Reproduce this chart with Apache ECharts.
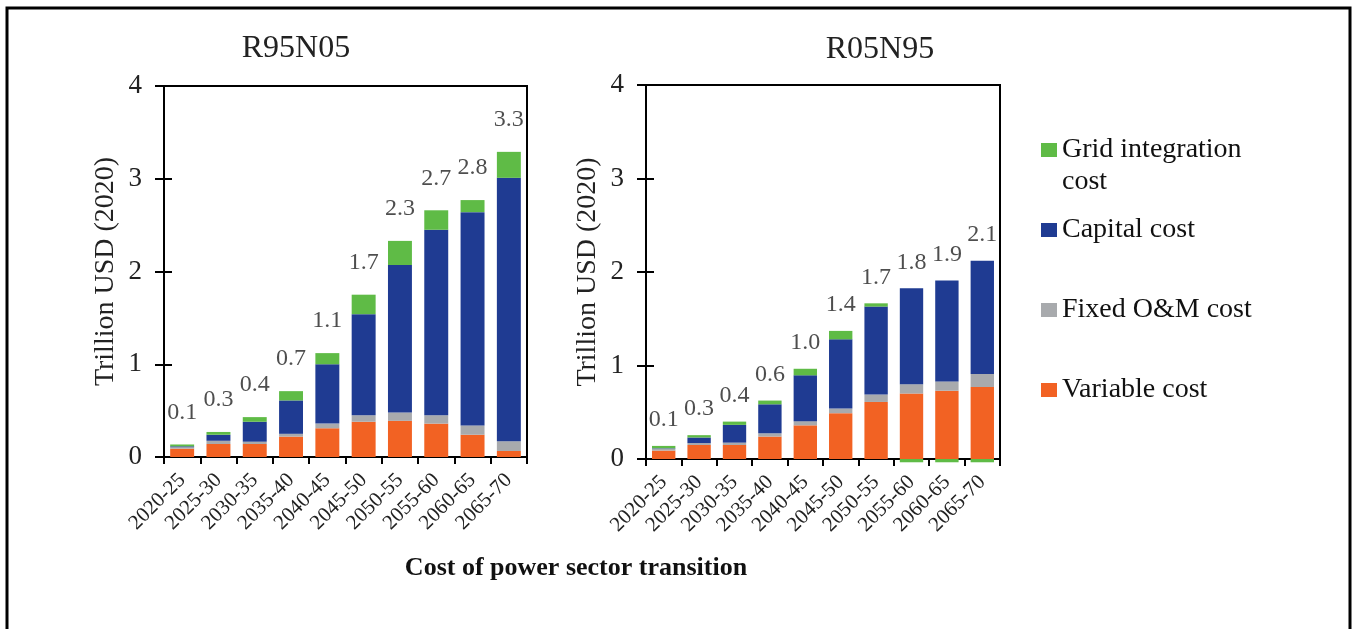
<!DOCTYPE html>
<html>
<head>
<meta charset="utf-8">
<script src="https://cdn.jsdelivr.net/npm/echarts@6/dist/echarts.min.js"></script>
<style>
  html, body { margin: 0; padding: 0; background: #fff; }
  #chart { width: 1353px; height: 629px; }
</style>
</head>
<body>
<div id="chart"></div>
<script>
const periods = ['2020-25', '2025-30', '2030-35', '2035-40', '2040-45', '2045-50', '2050-55', '2055-60', '2060-65', '2065-70']

// R95N05 (trillion USD 2020)
const variableA = [0.09, 0.14, 0.14, 0.22, 0.31, 0.38, 0.39, 0.36, 0.24, 0.065]
const fixedA = [0.015, 0.035, 0.025, 0.03, 0.05, 0.07, 0.09, 0.09, 0.10, 0.105]
const capitalA = [0.01, 0.065, 0.215, 0.36, 0.64, 1.09, 1.59, 2.0, 2.3, 2.84]
const gridA = [0.02, 0.03, 0.05, 0.10, 0.12, 0.21, 0.26, 0.21, 0.13, 0.28]
const totalLabelsA = ['0.1', '0.3', '0.4', '0.7', '1.1', '1.7', '2.3', '2.7', '2.8', '3.3']

// R05N95
const variableB = [0.09, 0.15, 0.15, 0.24, 0.36, 0.49, 0.61, 0.70, 0.73, 0.77]
const fixedB = [0.02, 0.02, 0.025, 0.035, 0.045, 0.05, 0.08, 0.10, 0.10, 0.14]
const capitalB = [0.005, 0.06, 0.19, 0.31, 0.49, 0.74, 0.94, 1.025, 1.08, 1.21]
const gridB = [0.025, 0.025, 0.035, 0.04, 0.07, 0.09, 0.035, -0.035, -0.035, -0.035]
const totalLabelsB = ['0.1', '0.3', '0.4', '0.6', '1.0', '1.4', '1.7', '1.8', '1.9', '2.1']

const yTicks = [0, 1, 2, 3, 4]

const colors = {
  grid: '#5fbb46',
  capital: '#1f3b92',
  fixed: '#a8aaad',
  variable: '#f26223',
}
const serif = '"Liberation Serif", "Times New Roman", serif'

function positiveTop(parts) {
  return periods.map((_, i) => parts.reduce((s, arr) => s + Math.max(arr[i], 0), 0))
}

function xAxisFor(gridIndex) {
  return {
    type: 'category',
    gridIndex,
    data: periods,
    axisLine: { lineStyle: { color: '#000', width: 2 } },
    axisTick: { show: true, interval: 0, length: 7, lineStyle: { color: '#000', width: 2 } },
    axisLabel: {
      interval: 0,
      rotate: 45,
      margin: 20,
      color: '#222',
      fontFamily: serif,
      fontSize: 21,
    },
  }
}

function yAxisFor(gridIndex) {
  return {
    type: 'value',
    gridIndex,
    min: yTicks[0],
    max: yTicks[yTicks.length - 1],
    interval: 1,
    name: 'Trillion USD (2020)',
    nameLocation: 'middle',
    nameGap: 44,
    nameTextStyle: { color: '#222', fontFamily: serif, fontSize: 28 },
    splitLine: { show: false },
    axisLine: { show: true, lineStyle: { color: '#000', width: 2 } },
    axisTick: { show: true, length: 9, lineStyle: { color: '#000', width: 2 } },
    axisLabel: { margin: 22, color: '#222', fontFamily: serif, fontSize: 27 },
  }
}

// inner half of the crossing y ticks
function innerTicksFor(gridIndex) {
  return {
    type: 'value',
    gridIndex,
    position: 'left',
    min: yTicks[0],
    max: yTicks[yTicks.length - 1],
    interval: 1,
    splitLine: { show: false },
    axisLine: { show: false },
    axisLabel: { show: false },
    axisTick: { show: true, inside: true, length: 8, lineStyle: { color: '#000', width: 2 } },
  }
}

function seriesFor(idx, variable, fixed, capital, grid, labels, gap) {
  const stack = 'cost' + idx
  // negative grid costs dip just below the zero line, so no clipping
  const base = { type: 'bar', stack, xAxisIndex: idx, yAxisIndex: idx, barWidth: '66%', clip: false }
  const tops = positiveTop([variable, fixed, capital, grid])
  return [
    { ...base, name: 'Variable cost', data: variable, itemStyle: { color: colors.variable } },
    { ...base, name: 'Fixed O&M cost', data: fixed, itemStyle: { color: colors.fixed } },
    { ...base, name: 'Capital cost', data: capital, itemStyle: { color: colors.capital } },
    { ...base, name: 'Grid integration cost', data: grid, itemStyle: { color: colors.grid } },
    {
      type: 'scatter',
      xAxisIndex: idx,
      yAxisIndex: idx,
      symbolSize: 0,
      silent: true,
      data: tops,
      label: {
        show: true,
        position: 'top',
        distance: gap,
        color: '#222',
        fontFamily: serif,
        fontSize: 24,
        formatter: p => labels[p.dataIndex],
      },
    },
  ]
}

const chart = echarts.init(document.getElementById('chart'), null, { renderer: 'canvas' })

chart.setOption({
  backgroundColor: '#fff',
  animation: false,
  grid: [
    { left: 164, right: 826, top: 86, bottom: 172, show: true, borderColor: '#000', borderWidth: 2 },
    { left: 646, right: 353, top: 85, bottom: 170, show: true, borderColor: '#000', borderWidth: 2 },
  ],
  xAxis: [xAxisFor(0), xAxisFor(1)],
  yAxis: [yAxisFor(0), yAxisFor(1), innerTicksFor(0), innerTicksFor(1)],
  legend: {
    orient: 'vertical',
    left: 1041,
    top: 136,
    padding: 0,
    itemWidth: 16,
    itemHeight: 14,
    itemGap: 52,
    icon: 'rect',
    data: ['Grid integration cost', 'Capital cost', 'Fixed O&M cost', 'Variable cost'],
    formatter: name => (name === 'Grid integration cost' ? 'Grid integration' : name),
    textStyle: { color: '#111', fontFamily: serif, fontSize: 28 },
    selectedMode: false,
  },
  graphic: [
    { type: 'rect', shape: { x: 7, y: 8, width: 1343, height: 640 }, style: { fill: 'none', stroke: '#000', lineWidth: 3 } },
    { type: 'text', x: 296, y: 49, style: { text: 'R95N05', font: '32px ' + serif, fill: '#222', align: 'center', verticalAlign: 'middle' } },
    { type: 'text', x: 880, y: 50, style: { text: 'R05N95', font: '32px ' + serif, fill: '#222', align: 'center', verticalAlign: 'middle' } },
    { type: 'text', x: 1062, y: 182, style: { text: 'cost', font: '28px ' + serif, fill: '#111', align: 'left', verticalAlign: 'middle' } },
    { type: 'text', x: 576, y: 568, style: { text: 'Cost of power sector transition', font: 'bold 26px ' + serif, fill: '#111', align: 'center', verticalAlign: 'middle' } },
  ],
  series: [
    ...seriesFor(0, variableA, fixedA, capitalA, gridA, totalLabelsA, 20),
    ...seriesFor(1, variableB, fixedB, capitalB, gridB, totalLabelsB, 14),
  ],
})
</script>
</body>
</html>
